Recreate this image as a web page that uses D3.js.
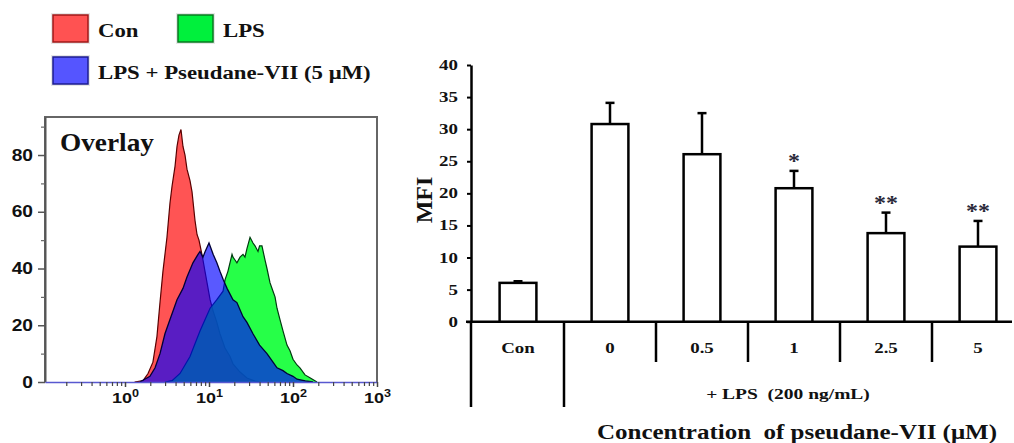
<!DOCTYPE html>
<html>
<head>
<meta charset="utf-8">
<script src="https://cdn.jsdelivr.net/npm/d3@7"></script>
<style>
body{margin:0;background:#fff}
svg{display:block}
</style>
</head>
<body>
<script>
// histogram overlay, [fluorescence intensity, count]
var conHist = [[1.3,0],[1.64,0.5],[1.88,3],[2.15,7],[2.4,16],[2.61,28],[2.83,39],[3.16,51],[3.43,63],[3.63,69],[3.94,76],[4.16,83],[4.39,87],[4.64,89],[4.9,83],[5.18,80],[5.47,75],[5.94,71],[6.28,67],[6.81,57],[7.2,52],[7.6,50],[8.1,46],[8.48,43],[8.96,39],[9.47,35],[10.3,29],[11.2,25],[12.4,21],[13.5,17],[15.5,12],[17.8,9],[19.3,6.4],[23.4,3.5],[28.3,1.4],[35.3,0.3],[42,0]]
var lpsHist = [[3.0,0],[3.63,0.5],[4.52,3],[5.94,9],[7.81,18],[10.3,26],[12.4,29],[14.7,32],[15.5,36],[16.8,39],[18.8,45],[19.3,44],[20.4,43],[21.5,42],[23.4,44],[25.4,45],[26.8,44],[28.3,47],[30.8,51],[33.4,49],[35.3,48],[38.3,46],[40,48],[42.7,48],[46.4,43],[49,40],[53.2,35],[57.8,32],[61.1,30],[64.5,26],[70,22],[76,18],[84.8,13],[92.1,11],[100,8],[111.6,6],[121,5],[139,2.5],[159,1.5],[193,0]]
var pvHist = [[1.5,0],[1.98,2],[2.28,5],[2.61,10],[2.99,17],[3.43,22],[3.73,25],[4.16,29],[4.9,33],[5.47,37],[6.44,42],[7.4,45],[7.81,46],[8.48,44],[9.0,46],[10,49],[10.6,47],[11.2,45],[12.4,42],[13.5,39],[14.8,36],[16.4,33],[19.3,29],[21.5,28],[25.4,23],[28.3,21],[33.4,17],[40,13],[49,10],[57.8,7],[64.5,5],[76,4],[84.8,3],[100,2],[111.6,1],[140,0.4],[173,0]]
var histMajor = [1,10,100,1000]
var histMinor = [0.2,0.3,0.4,0.5,0.6,0.7,0.8,0.9,2,3,4,5,6,7,8,9,20,30,40,50,60,70,80,90,200,300,400,500,600,700,800,900]
var histYTicks = [0,20,40,60,80]
var histYMinor = [10,30,50,70,90]

var legendNames = ["Con","LPS","LPS + Pseudane-VII (5 μM)"]
var legendFill = ["#ff5252","#00f03c","#5555ff"]
var legendEdge = ["#a01818","#087a20","#1c1c90"]

// bar chart
var groups = ["Con","0","0.5","1","2.5","5"]
var mfi = [6.05,30.8,26.1,20.8,13.8,11.7]
var mfiErr = [0.25,3.3,6.4,2.7,3.2,4.0]
var signif = ["","","","*","**","**"]
var mfiTicks = [0,5,10,15,20,25,30,35,40]

var W=1014,H=443
var svg=d3.select("body").append("svg").attr("width",W).attr("height",H)
svg.append("rect").attr("width",W).attr("height",H).attr("fill","#fff")

var serif="'Liberation Serif','Times New Roman',serif"
var sans="'Liberation Sans',Arial,sans-serif"

function label(g,x,y,s,size,sx,fam,anchor){
    return g.append("text")
        .attr("transform","translate("+x+","+y+") scale("+sx+",1)")
        .attr("text-anchor",anchor||"start")
        .style("font","bold "+size+"px "+fam)
        .style("white-space","pre")
        .text(s)
}

//---------------- left: overlay histogram
var hx=d3.scaleLog().domain([0.1116,1000]).range([45,377])
var hy=d3.scaleLinear().domain([0,93.4]).range([382,117])
var hist=svg.append("g")

hist.append("path")
    .attr("d","M45,382V117H377V382")
    .attr("fill","none").attr("stroke","#666").attr("stroke-width",2)

var area=d3.area().x(function(d){return hx(d[0])}).y0(hy(0)).y1(function(d){return hy(d[1])})
var line=d3.line().x(function(d){return hx(d[0])}).y(function(d){return hy(d[1])})

hist.append("path").attr("d",area(conHist)).attr("fill","rgb(255,84,84)")
hist.append("path").attr("d",line(conHist)).attr("fill","none").attr("stroke","#5a0000").attr("stroke-width",1.2)
hist.append("path").attr("d",area(lpsHist)).attr("fill","rgb(0,255,40)").attr("fill-opacity",0.85)
hist.append("path").attr("d",line(lpsHist)).attr("fill","none").attr("stroke","#003a10").attr("stroke-width",1.2)
hist.append("path").attr("d",area(pvHist)).attr("fill","rgb(0,0,255)").attr("fill-opacity",0.65)
hist.append("path").attr("d",line(pvHist)).attr("fill","none").attr("stroke","#000038").attr("stroke-width",1.3)

// y axis
var hyAxis=hist.append("g").attr("transform","translate(45,0)")
    .call(d3.axisLeft(hy).tickValues(histYTicks).tickSize(7).tickSizeOuter(0))
hyAxis.select(".domain").attr("stroke","#555").attr("stroke-width",2)
hyAxis.selectAll(".tick line").attr("stroke","#555").attr("stroke-width",1.5)
hyAxis.selectAll(".tick text")
    .attr("x",-12/1.2).attr("transform","scale(1.2,1)")
    .style("font","bold 16px "+sans).attr("fill","#111")
hist.append("g").attr("transform","translate(45,0)")
    .call(d3.axisLeft(hy).tickValues(histYMinor).tickSize(4).tickFormat(""))
    .call(function(g){g.select(".domain").remove()})
    .selectAll(".tick line").attr("stroke","#666").attr("stroke-width",1.2)

// x axis (log)
var hxAxis=hist.append("g").attr("transform","translate(0,382)")
    .call(d3.axisBottom(hx).tickValues(histMajor).tickSize(5).tickSizeOuter(0).tickPadding(5).tickFormat(function(){return "10"}))
hxAxis.select(".domain").attr("stroke","#5858d0").attr("stroke-width",1.6)
hxAxis.selectAll(".tick line").attr("stroke","#444").attr("stroke-width",1.5)
hxAxis.selectAll(".tick text")
    .attr("transform","scale(1.2,1)")
    .style("font","bold 15px "+sans).attr("fill","#111")
    .append("tspan").attr("dy","-0.55em").style("font-size","10.5px")
    .text(function(d){return Math.round(Math.log10(d))})
hist.append("g").attr("transform","translate(0,382)")
    .call(d3.axisBottom(hx).tickValues(histMinor).tickSize(4).tickFormat(""))
    .call(function(g){g.select(".domain").remove()})
    .selectAll(".tick line").attr("stroke","#444").attr("stroke-width",1.2)

label(hist,60,151,"Overlay",26,1.05,serif).attr("fill","#111")

// legend
var leg=svg.append("g")
legendNames.forEach(function(n,i){
    var x=i==1?178:53, y=i==2?57:15
    leg.append("rect").attr("x",x-2).attr("y",y-2).attr("width",39).attr("height",31).attr("fill","#e6e6e6")
    leg.append("rect").attr("x",x).attr("y",y).attr("width",35).attr("height",27)
        .attr("fill",legendFill[i]).attr("stroke",legendEdge[i]).attr("stroke-width",1.5)
    label(leg,x+45,y+22,n,19,1.2,serif).attr("fill","#111")
})

//---------------- right: MFI bar chart
var bx=d3.scaleBand().domain(groups).range([472,1024]).paddingInner(0.6).paddingOuter(0.3)
var by=d3.scaleLinear().domain([0,40]).range([321.7,65])
var bar=svg.append("g")
var step=bx.step(), x0=472

var byAxis=bar.append("g").attr("transform","translate(471,0)")
    .call(d3.axisLeft(by).tickValues(mfiTicks).tickSize(4).tickSizeOuter(0))
byAxis.select(".domain").attr("stroke","#000").attr("stroke-width",2.5)
byAxis.selectAll(".tick line").attr("stroke","#000").attr("stroke-width",2)
byAxis.selectAll(".tick text")
    .attr("x",-13/1.35).attr("transform","scale(1.35,1)")
    .style("font","bold 14px "+serif).attr("fill","#111")

// base line and group separators
bar.append("line").attr("x1",466).attr("x2",1012).attr("y1",by(0)).attr("y2",by(0))
    .attr("stroke","#000").attr("stroke-width",2.5)
bar.append("line").attr("x1",471).attr("x2",471).attr("y1",by(0)).attr("y2",407)
    .attr("stroke","#000").attr("stroke-width",2.5)
d3.range(1,6).forEach(function(i){
    bar.append("line").attr("x1",x0+i*step).attr("x2",x0+i*step)
        .attr("y1",by(0)).attr("y2",i==1?407:362)
        .attr("stroke","#000").attr("stroke-width",2.5)
})

bar.selectAll("rect.b").data(groups).enter().append("rect").attr("class","b")
    .attr("x",function(d){return bx(d)})
    .attr("y",function(d,i){return by(mfi[i])})
    .attr("width",bx.bandwidth())
    .attr("height",function(d,i){return by(0)-by(mfi[i])})
    .attr("fill","#fff").attr("stroke","#000").attr("stroke-width",2.5)

groups.forEach(function(g,i){
    var cx=bx(g)+bx.bandwidth()/2, top=by(mfi[i]+mfiErr[i])
    bar.append("line").attr("x1",cx).attr("x2",cx).attr("y1",by(mfi[i])).attr("y2",top)
        .attr("stroke","#000").attr("stroke-width",2.5)
    bar.append("line").attr("x1",cx-4.5).attr("x2",cx+4.5).attr("y1",top).attr("y2",top)
        .attr("stroke","#000").attr("stroke-width",2.5)
    if(signif[i]) label(bar,cx,top-3,signif[i],20,1.2,serif,"middle").attr("fill","#2a2a3a")
    label(bar,cx,353,g,14,1.35,serif,"middle").attr("fill","#111")
})

label(bar,(x0+step+1012)/2,399,"+ LPS  (200 ng/mL)",15,1.3,serif,"middle").attr("fill","#111")
label(bar,797,439,"Concentration  of pseudane-VII (μM)",20,1.25,serif,"middle").attr("fill","#111")

bar.append("text")
    .attr("transform","translate(432,200) rotate(-90)")
    .attr("text-anchor","middle")
    .style("font","bold 24px "+serif).attr("fill","#111")
    .text("MFI")
</script>
</body>
</html>
